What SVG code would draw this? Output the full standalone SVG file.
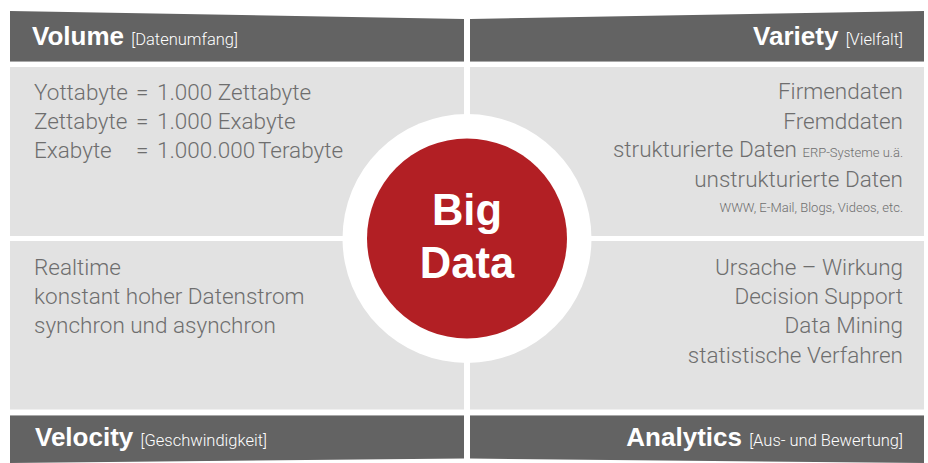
<svg xmlns="http://www.w3.org/2000/svg" width="928" height="463" viewBox="0 0 928 463">
<style>
.bar{fill:#636363}
.barline{stroke:#a8a8a8;stroke-width:1}
.panel{fill:#e2e2e2}
.hd{font-family:"Liberation Sans",Arial,sans-serif;font-weight:bold;font-size:26px;fill:#ffffff}
.sub{font-family:Roboto,"Liberation Sans",sans-serif;font-weight:300;font-size:16.5px;fill:#ffffff}
.tx{font-family:Roboto,"Liberation Sans",sans-serif;font-weight:300;font-size:22.5px;fill:#6e6e6e}
.sm{font-family:Roboto,"Liberation Sans",sans-serif;font-weight:300;font-size:13px;fill:#6e6e6e}
.r{text-anchor:end}
.big{font-family:"Liberation Sans",Arial,sans-serif;font-weight:bold;font-size:43.5px;fill:#ffffff;text-anchor:middle}
</style>
<rect width="928" height="463" fill="#ffffff"/>
<g id="volume">
<polygon class="bar" points="10,11 464,19 464,61 10,61"/>
<line class="barline" x1="10" y1="61.5" x2="464" y2="61.5"/>
<rect class="panel" x="10" y="67" width="454" height="169"/>
<text class="hd" x="32" y="45">Volume <tspan class="sub">[Datenumfang]</tspan></text>
<text class="tx" y="100"><tspan x="34">Yottabyte</tspan><tspan x="136">=</tspan><tspan x="157">1.000 Zettabyte</tspan></text>
<text class="tx" y="129"><tspan x="34">Zettabyte</tspan><tspan x="136">=</tspan><tspan x="157">1.000 Exabyte</tspan></text>
<text class="tx" y="158"><tspan x="34">Exabyte</tspan><tspan x="136">=</tspan><tspan x="157">1.000.000</tspan><tspan x="258">Terabyte</tspan></text>
</g>
<g id="variety">
<polygon class="bar" points="470,19 924,11 924,61 470,61"/>
<line class="barline" x1="470" y1="61.5" x2="924" y2="61.5"/>
<rect class="panel" x="470" y="67" width="454" height="169"/>
<text class="hd r" x="903" y="45">Variety <tspan class="sub">[Vielfalt]</tspan></text>
<text class="tx r" x="903" y="99">Firmendaten</text>
<text class="tx r" x="903" y="129">Fremddaten</text>
<text class="tx r" x="903" y="157">strukturierte Daten <tspan class="sm">ERP-Systeme u.ä.</tspan></text>
<text class="tx r" x="903" y="187">unstrukturierte Daten</text>
<text class="sm r" x="903" y="212">WWW, E-Mail, Blogs, Videos, etc.</text>
</g>
<g id="velocity">
<rect class="panel" x="10" y="241" width="454" height="168.5"/>
<polygon class="bar" points="10,416 464,416 464,458.5 10,463"/>
<line class="barline" x1="10" y1="415.5" x2="464" y2="415.5"/>
<text class="tx" x="34" y="275">Realtime</text>
<text class="tx" x="34" y="304">konstant hoher Datenstrom</text>
<text class="tx" x="34" y="333">synchron und asynchron</text>
<text class="hd" x="35" y="446">Velocity <tspan class="sub">[Geschwindigkeit]</tspan></text>
</g>
<g id="analytics">
<rect class="panel" x="470" y="241" width="454" height="168.5"/>
<polygon class="bar" points="470,416 924,416 924,463 470,458.5"/>
<line class="barline" x1="470" y1="415.5" x2="924" y2="415.5"/>
<text class="tx r" x="903" y="275">Ursache – Wirkung</text>
<text class="tx r" x="903" y="304">Decision Support</text>
<text class="tx r" x="903" y="333">Data Mining</text>
<text class="tx r" x="903" y="363">statistische Verfahren</text>
<text class="hd r" x="903" y="446">Analytics <tspan class="sub">[Aus- und Bewertung]</tspan></text>
</g>
<g id="bigdata">
<circle cx="467" cy="238.5" r="124.5" fill="#ffffff"/>
<circle cx="467" cy="238.5" r="100" fill="#b21f24"/>
<text class="big" x="467" y="225">Big</text>
<text class="big" x="467" y="278">Data</text>
</g>
<g id="connectors"/>
</svg>
